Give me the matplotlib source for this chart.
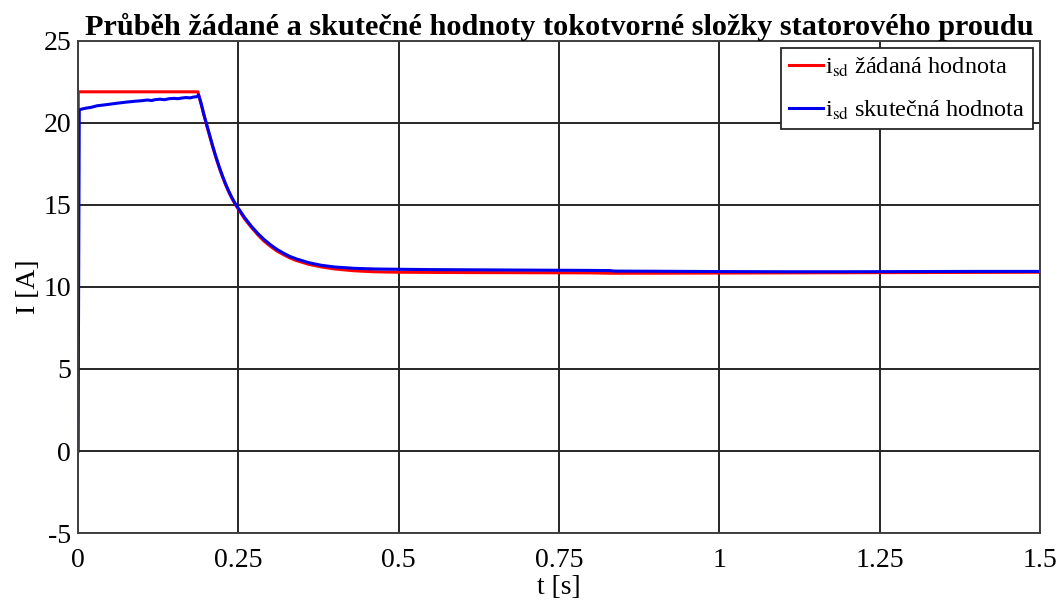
import numpy as np
import matplotlib.pyplot as plt

plt.rcParams['font.family'] = ['Liberation Serif', 'DejaVu Serif']
plt.rcParams['mathtext.fontset'] = 'stix'
plt.rcParams['axes.unicode_minus'] = False

# zadana hodnota i_sd
t_ref = [0.0, 0.0005, 0.187, 0.191, 0.195, 0.2, 0.205, 0.21, 0.215, 0.22, 0.225, 0.23,
         0.235, 0.24, 0.245, 0.25, 0.26, 0.27, 0.28, 0.29, 0.3, 0.31, 0.32, 0.33, 0.34,
         0.36, 0.38, 0.4, 0.43, 0.46, 0.5, 0.6, 0.7, 0.8, 0.83, 0.9, 1.0, 1.1, 1.2, 1.3, 1.4, 1.5]
i_ref = [0.0, 21.9, 21.9, 21.3, 20.7, 19.95, 19.25, 18.55, 17.9, 17.3, 16.75, 16.25,
         15.8, 15.4, 15.05, 14.75, 14.15, 13.65, 13.2, 12.8, 12.48, 12.2, 11.98, 11.78, 11.62,
         11.38, 11.22, 11.1, 10.99, 10.93, 10.9, 10.88, 10.87, 10.86, 10.84, 10.84, 10.85, 10.86, 10.87, 10.88, 10.89, 10.9]

# skutecna hodnota i_sd
t_act = [0.0, 0.001, 0.002, 0.006, 0.012, 0.02, 0.03, 0.045, 0.06, 0.075, 0.09, 0.1, 0.108,
         0.115, 0.12, 0.128, 0.135, 0.142, 0.15, 0.156, 0.162, 0.168, 0.175, 0.18, 0.185,
         0.188, 0.192, 0.196, 0.2, 0.205, 0.21, 0.215, 0.22, 0.225, 0.23, 0.235, 0.24, 0.245,
         0.25, 0.26, 0.27, 0.28, 0.29, 0.3, 0.31, 0.32, 0.33, 0.34, 0.36, 0.38, 0.4, 0.43,
         0.46, 0.5, 0.55, 0.6, 0.7, 0.75, 0.8, 0.83, 0.835, 0.9, 0.95, 1.0, 1.1, 1.2, 1.3, 1.4, 1.5]
i_act = [0.0, 10.0, 20.8, 20.85, 20.9, 20.95, 21.05, 21.12, 21.2, 21.27, 21.33, 21.36, 21.4,
         21.37, 21.42, 21.45, 21.42, 21.48, 21.5, 21.48, 21.52, 21.55, 21.53, 21.58, 21.6,
         21.7, 21.2, 20.55, 20.0, 19.3, 18.6, 17.95, 17.35, 16.8, 16.3, 15.85, 15.45, 15.1,
         14.8, 14.22, 13.72, 13.28, 12.9, 12.58, 12.3, 12.07, 11.87, 11.72, 11.48, 11.32, 11.22, 11.14,
         11.1, 11.08, 11.06, 11.05, 11.03, 11.02, 11.01, 11.0, 10.97, 10.96, 10.95, 10.94, 10.93, 10.93, 10.94, 10.95, 10.95]

fig = plt.figure(figsize=(10.64, 6.07), dpi=100)
ax = fig.add_axes([0.0733, 0.1219, 0.9041, 0.8106])

ax.plot(t_ref, i_ref, color='#ff0000', lw=2.2, label=r'i$_{\mathrm{sd}}$ žádaná hodnota')
ax.plot(t_act, i_act, color='#0000ee', lw=2.2, label=r'i$_{\mathrm{sd}}$ skutečná hodnota')

ax.set_xlim(0, 1.5)
ax.set_ylim(-5, 25)
ax.set_xticks([0, 0.25, 0.5, 0.75, 1, 1.25, 1.5])
ax.set_xticklabels(['0', '0.25', '0.5', '0.75', '1', '1.25', '1.5'])
ax.set_yticks(np.arange(-5, 26, 5))
ax.grid(True, color='#262626', lw=1.4)
for s in ax.spines.values():
    s.set_color('#404040')
    s.set_linewidth(1.4)
ax.tick_params(length=0, labelsize=20)
ax.tick_params(axis='x', pad=11)
ax.tick_params(axis='y', pad=5)

ax.set_xlabel('t [s]', fontsize=20, labelpad=1)
ax.set_ylabel('I [A]', fontsize=20, labelpad=2)
ax.set_title('Průběh žádané a skutečné hodnoty tokotvorné složky statorového proudu',
             fontsize=21.8, fontweight='bold', pad=4)

leg = ax.legend(loc='upper right', fontsize=17.5, handlelength=1.4, handletextpad=0.1,
                borderpad=0.3, labelspacing=0.8, fancybox=False, framealpha=1,
                borderaxespad=0.3)
leg.get_frame().set_edgecolor('#262626')
leg.get_frame().set_linewidth(1.3)

fig.savefig('out.png', dpi=100)
